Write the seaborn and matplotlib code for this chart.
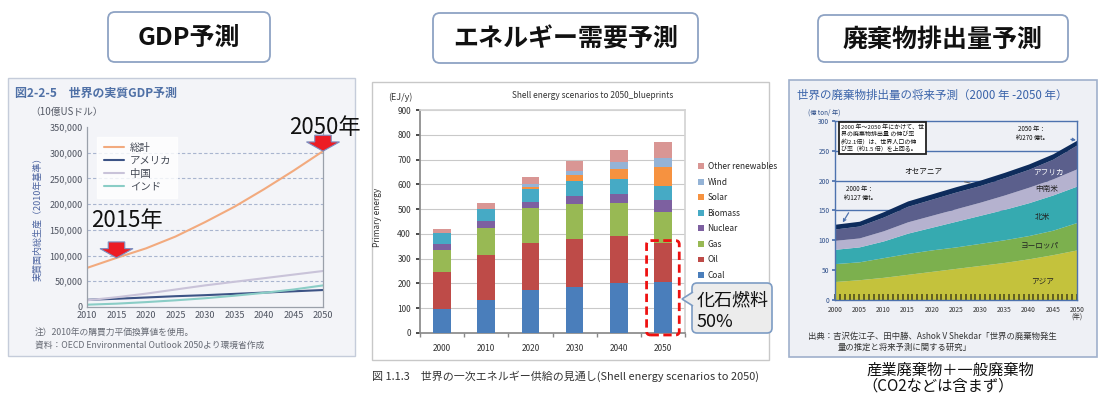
import numpy as np
import pandas as pd
import matplotlib
matplotlib.use("Agg")
import matplotlib.pyplot as plt
import seaborn as sns
from matplotlib.patches import FancyBboxPatch, Polygon, Patch, Rectangle
from matplotlib.ticker import FuncFormatter, MultipleLocator

# ---- World real GDP projection (billion USD, 2010 PPP) ----
gdp_years = [2010, 2015, 2020, 2025, 2030, 2035, 2040, 2045, 2050]
gdp_total = [76000, 95500, 114000, 137000, 165000, 195000, 229000, 265000, 303000]
gdp_usa = [14000, 16000, 18500, 21000, 23000, 25500, 28000, 30500, 33000]
gdp_china = [13000, 19000, 26000, 34000, 42000, 49000, 56000, 63000, 70000]
gdp_india = [4500, 6500, 9500, 13000, 17000, 22000, 27500, 34000, 42000]
gdp_series = ["総計", "アメリカ", "中国", "インド"]
gdp_colors = ["#f2aa7e", "#3c5385", "#c9c3d9", "#8acdc6"]
gdp_marked_years = [2015, 2050]

# ---- Primary energy supply, Shell blueprints scenario (EJ/y) ----
energy_years = ["2000", "2010", "2020", "2030", "2040", "2050"]
energy_sources = ["Coal", "Oil", "Gas", "Nuclear", "Biomass", "Solar", "Wind", "Other renewables"]
coal = [97, 135, 172, 185, 200, 207]
oil = [148, 179, 190, 193, 190, 158]
gas = [88, 108, 141, 143, 135, 122]
nuclear = [25, 31, 27, 32, 38, 50]
biomass = [45, 47, 52, 62, 57, 55]
solar = [0, 0, 8, 22, 40, 76]
wind = [1, 2, 10, 18, 30, 37]
other_renewables = [14, 23, 30, 40, 50, 65]
energy_colors = ["#4a7ebb", "#be4b48", "#98b954", "#7d60a0", "#46aac5", "#f69240", "#94b3d6", "#d99694"]

# ---- World waste generation (100 million t/year) ----
waste_years = [2000, 2005, 2010, 2015, 2020, 2025, 2030, 2035, 2040, 2045, 2050]
asia = [31, 34, 38, 43, 48, 53, 58, 63, 69, 76, 84]
europe = [30, 30, 33, 35, 36, 36, 37, 38, 39, 41, 46]
north_america = [24, 25, 28, 34, 38, 43, 47, 51, 55, 59, 61]
latin_america = [15, 15, 17, 19, 20, 21, 22, 24, 26, 27, 29]
africa = [19, 20, 23, 26, 27, 28, 28, 29, 30, 33, 40]
oceania = [8, 8, 9, 9, 9, 9, 9, 9, 9, 9, 8]
waste_regions = ["アジア", "ヨーロッパ", "北米", "中南米", "アフリカ", "オセアニア"]
waste_colors = ["#c4c23c", "#7cb04e", "#36aab0", "#b5b2cf", "#5b5f8c", "#0e2c5c"]

sns.set_theme(style="white")
plt.rcParams["font.family"] = ["Noto Sans CJK JP", "DejaVu Sans"]
plt.rcParams["axes.unicode_minus"] = False

W, H = 1100, 399
fig = plt.figure(figsize=(W / 100, H / 100), dpi=100)


def axes_px(x0, y0, x1, y1, **kw):
    return fig.add_axes([x0 / W, 1 - y1 / H, (x1 - x0) / W, (y1 - y0) / H], **kw)


# background layer in pixel coordinates (y grows downward)
bg = axes_px(0, 0, W, H)
bg.set_xlim(0, W)
bg.set_ylim(H, 0)
bg.axis("off")
bg.set_zorder(-5)

# heading boxes
for (x0, y0, x1, y1), label in [((108, 12, 270, 62), "GDP予測"),
                                ((433, 13, 698, 63), "エネルギー需要予測"),
                                ((818, 15, 1068, 62), "廃棄物排出量予測")]:
    bg.add_patch(FancyBboxPatch((x0, y0), x1 - x0, y1 - y0,
                                boxstyle="round,pad=0,rounding_size=7",
                                fc="white", ec="#8ea3c4", lw=1.3))
    bg.text((x0 + x1) / 2, (y0 + y1) / 2 + 1, label, ha="center", va="center",
            fontsize=18, fontweight="bold", color="#111111")

# panel frames
bg.add_patch(Rectangle((8, 78), 347, 278, fc="#f3f4f8", ec="#c5ccda", lw=1.0))
bg.add_patch(Rectangle((372, 82), 397, 278, fc="white", ec="#c8c8c8", lw=1.0))
bg.add_patch(Rectangle((789, 80), 308, 277, fc="#eef0f5", ec="#9fb0cc", lw=1.2))

# ======================= GDP panel =======================
bg.text(15, 93, "図2-2-5　世界の実質GDP予測", fontsize=8.6, fontweight="bold",
        color="#4f70a6", va="center")
bg.text(30, 112, "（10億USドル）", fontsize=7, color="#555a66", va="center")
bg.text(35, 333, "注）2010年の購買力平価換算値を使用。", fontsize=6.3, color="#666a74", va="center")
bg.text(35, 345, "資料：OECD Environmental Outlook 2050より環境省作成", fontsize=6.3,
        color="#666a74", va="center")

ax1 = axes_px(87, 127, 323, 307)
ax1.set_facecolor("none")
gdp_df = pd.DataFrame({
    "year": gdp_years * 4,
    "value": gdp_total + gdp_usa + gdp_china + gdp_india,
    "series": sum([[s] * len(gdp_years) for s in gdp_series], []),
})
sns.lineplot(data=gdp_df, x="year", y="value", hue="series", hue_order=gdp_series,
             palette=gdp_colors, linewidth=1.5, ax=ax1)
ax1.set_xlim(2010, 2050)
ax1.set_ylim(0, 350000)
ax1.set_xticks(range(2010, 2051, 5))
ax1.set_yticks(range(0, 350001, 50000))
ax1.yaxis.set_major_formatter(FuncFormatter(lambda v, p: f"{int(v):,}"))
for yv in range(50000, 300001, 50000):
    ax1.axhline(yv, color="#a9b5cf", lw=0.8, ls=(0, (3, 2)), zorder=0)
for side in ["left", "bottom", "right"]:
    ax1.spines[side].set_color("#9aa0aa")
    ax1.spines[side].set_linewidth(0.9)
ax1.spines["top"].set_visible(False)
ax1.tick_params(labelsize=6.5, colors="#4e5360", length=0, pad=3)
ax1.set_xlabel("")
ax1.set_ylabel("実質国内総生産（2010年基準）", fontsize=6.5, color="#4b63a0")
ax1.yaxis.set_label_coords(-0.19, 0.5)
handles, labels = ax1.get_legend_handles_labels()
leg = ax1.legend(handles, labels, loc="upper left", bbox_to_anchor=(0.022, 0.975),
                 fontsize=7.5, frameon=True, fancybox=False, handlelength=2.0,
                 labelspacing=0.28, borderpad=0.6, handletextpad=0.5)
leg.get_frame().set_facecolor("white")
leg.get_frame().set_edgecolor("white")
for t in leg.get_texts():
    t.set_color("#444955")

# red markers pointing at the total for selected years
for yr in gdp_marked_years:
    tip = gdp_total[gdp_years.index(yr)]
    pts = [(yr - 1.4, tip + 31000), (yr + 1.4, tip + 31000), (yr + 1.4, tip + 18000),
           (yr + 2.8, tip + 18000), (yr, tip), (yr - 2.8, tip + 18000), (yr - 1.4, tip + 18000)]
    ax1.add_patch(Polygon(pts, closed=True, fc="#ec1c24", ec="#7b8fc2", lw=0.8,
                          clip_on=False, zorder=6))
ax1.text(2016.8, 169000, "2015年", fontsize=16, ha="center", va="center", color="#111111")
ax1.text(2050.3, 350000, "2050年", fontsize=16, ha="center", va="center", color="#111111",
         clip_on=False)

# ======================= Energy panel =======================
bg.text(593, 96, "Shell energy scenarios to 2050_blueprints", fontsize=6, ha="center",
        va="center", color="#333333")
bg.text(400, 97, "(EJ/y)", fontsize=6.5, ha="center", va="center", color="#333333")
bg.text(372, 376, "図 1.1.3　世界の一次エネルギー供給の見通し(Shell energy scenarios to 2050)",
        fontsize=7.9, va="center", color="#333333")

ax2 = axes_px(420, 110, 685, 333)
ax2.set_facecolor("white")
energy_values = [coal, oil, gas, nuclear, biomass, solar, wind, other_renewables]
cumulative = np.cumsum(np.array(energy_values), axis=0)
for level in range(len(energy_sources) - 1, -1, -1):
    sns.barplot(x=energy_years, y=cumulative[level], color=energy_colors[level],
                saturation=1, width=0.4, linewidth=0, errorbar=None, ax=ax2, zorder=3)
ax2.set_ylim(0, 900)
ax2.set_xlim(-0.5, 5.5)
ax2.set_yticks(range(0, 901, 100))
ax2.yaxis.grid(True, color="#c9c9c9", lw=0.8)
ax2.set_axisbelow(True)
ax2.set_xticks(np.arange(-0.5, 6.0, 1.0), minor=True)
ax2.tick_params(axis="x", which="minor", length=3, color="#888888", direction="out", bottom=True)
ax2.tick_params(axis="x", which="major", length=0, pad=8)
ax2.tick_params(axis="y", length=3, color="#888888", direction="out", left=True)
ax2.tick_params(labelsize=6, colors="#333333")
for side in ["top", "right"]:
    ax2.spines[side].set_color("#d4d4d4")
for side in ["left", "bottom"]:
    ax2.spines[side].set_color("#8a8a8a")
ax2.set_xlabel("")
ax2.set_ylabel("Primary energy", fontsize=6, color="#333333")
ax2.yaxis.set_label_coords(-0.145, 0.52)
legend_handles = [Patch(fc=c, ec="none") for c in energy_colors][::-1]
ax2.legend(legend_handles, energy_sources[::-1], loc="upper left",
           bbox_to_anchor=(695 / W, 1 - 159 / H), bbox_transform=fig.transFigure,
           frameon=False, fontsize=6, handlelength=0.7, handleheight=0.7,
           labelspacing=0.78, handletextpad=0.4, borderaxespad=0)

fossil_2050 = coal[-1] + oil[-1]
ax2.add_patch(FancyBboxPatch((4.63, -8), 0.74, fossil_2050 + 16,
                             boxstyle="round,pad=0,rounding_size=0.09",
                             mutation_aspect=170, fc="none", ec="#ee1111", lw=2.0,
                             ls=(0, (3, 1.6)), clip_on=False, zorder=8))

# ======================= Waste panel =======================
bg.text(797, 95, "世界の廃棄物排出量の将来予測（2000 年 -2050 年）", fontsize=8.3,
        color="#3b64aa", va="center")
bg.text(808, 113, "(億 ton/ 年)", fontsize=4.5, color="#2e4f8a", va="center")
bg.text(808, 336, "出典：吉沢佐江子、田中勝、Ashok V Shekdar「世界の廃棄物発生", fontsize=6,
        color="#333333", va="center")
bg.text(838, 347, "量の推定と将来予測に関する研究」", fontsize=6, color="#333333", va="center")
bg.text(866, 370, "産業廃棄物＋一般廃棄物", fontsize=11, color="#111111", va="center")
bg.text(862, 386, "（CO2などは含まず）", fontsize=11, color="#111111", va="center")

ax3 = axes_px(835, 121, 1077, 300)
ax3.set_facecolor("none")
ax3.set_axisbelow(False)
for yv in [150, 200, 250]:
    ax3.axhline(yv, color="#4d72ae", lw=1.0, zorder=0)
ax3.stackplot(waste_years, asia, europe, north_america, latin_america, africa, oceania,
              colors=waste_colors, labels=waste_regions, zorder=2, lw=0)
ax3.set_xlim(2000, 2050)
ax3.set_ylim(0, 300)
ax3.set_xticks(range(2000, 2051, 5))
ax3.set_yticks(range(0, 301, 50))
ax3.xaxis.set_minor_locator(MultipleLocator(1))
ax3.tick_params(axis="x", which="minor", direction="in", length=4, width=1.1,
                color="#46461a", bottom=True)
ax3.tick_params(axis="x", which="major", direction="in", length=4, width=1.1,
                color="#46461a", bottom=True, labelsize=4.8, labelcolor="#333333", pad=4)
ax3.tick_params(axis="y", length=2, direction="out", left=True, color="#4d72ae",
                labelsize=4.8, labelcolor="#2e4f8a", pad=2)
for side in ax3.spines:
    ax3.spines[side].set_color("#4d72ae")
    ax3.spines[side].set_linewidth(1.0)
    ax3.spines[side].set_zorder(4)
bg.text(1077, 317, "(年)", fontsize=4.8, ha="center", va="center", color="#333333")

ax3.text(2001.2, 295,
         "2000 年～2050 年にかけて、世\n界の廃棄物排出量 の伸び率\n(約2.1倍）は、世界人口の伸\nび率（約1.5 倍）を上回る。",
         fontsize=4.3, va="top", ha="left", color="#111111", linespacing=1.25, zorder=6,
         bbox=dict(boxstyle="square,pad=0.35", fc="white", ec="#222222", lw=1.3))
total_2000 = asia[0] + europe[0] + north_america[0] + latin_america[0] + africa[0] + oceania[0]
total_2050 = asia[-1] + europe[-1] + north_america[-1] + latin_america[-1] + africa[-1] + oceania[-1]
ax3.annotate("2000 年：\n約127 億t。", xy=(2001.6, total_2000 + 3), xytext=(2005.2, 178),
             fontsize=4.5, ha="center", va="center", color="#111111", zorder=6,
             arrowprops=dict(arrowstyle="->", color="#4d72ae", lw=0.9,
                             connectionstyle="arc3,rad=0", shrinkA=6, shrinkB=0))
ax3.annotate("2050 年：\n約270 億t。", xy=(2049.8, total_2050), xytext=(2040.7, 279),
             fontsize=4.5, ha="center", va="center", color="#111111", zorder=6,
             arrowprops=dict(arrowstyle="->", color="#4d72ae", lw=0.9, shrinkA=14, shrinkB=0))
ax3.annotate("オセアニア", xy=(2027.9, 196), xytext=(2018.2, 214),
             fontsize=5.5, ha="center", va="center", color="#111111", zorder=6,
             arrowprops=dict(arrowstyle="-", color="#666666", lw=0.8, shrinkA=14, shrinkB=0))
for name, xv, yv, col in [("アフリカ", 2044.0, 214, "white"), ("中南米", 2043.8, 186, "#222222"),
                          ("北米", 2042.8, 139, "#222222"), ("ヨーロッパ", 2042.4, 91, "#222222"),
                          ("アジア", 2042.8, 30, "#222222")]:
    ax3.text(xv, yv, name, fontsize=5.5, ha="center", va="center", color=col, zorder=6)

# foreground layer for the callout that spans the energy chart edge
fg = axes_px(0, 0, W, H)
fg.set_xlim(0, W)
fg.set_ylim(H, 0)
fg.axis("off")
fg.set_zorder(10)
fg.patch.set_alpha(0)
fg.add_patch(FancyBboxPatch((692, 283), 80, 50, boxstyle="round,pad=0,rounding_size=5",
                            fc="#ececec", ec="#7d9cc4", lw=1.2))
fg.add_patch(Polygon([(693, 292), (682, 299), (693, 306)], closed=False,
                     fc="#ececec", ec="#7d9cc4", lw=1.2))
fg.text(697, 300, "化石燃料", fontsize=13, va="center", color="#111111")
fg.text(697, 322, "50%", fontsize=13, va="center", color="#111111")

fig.savefig("out.png", dpi=100)
